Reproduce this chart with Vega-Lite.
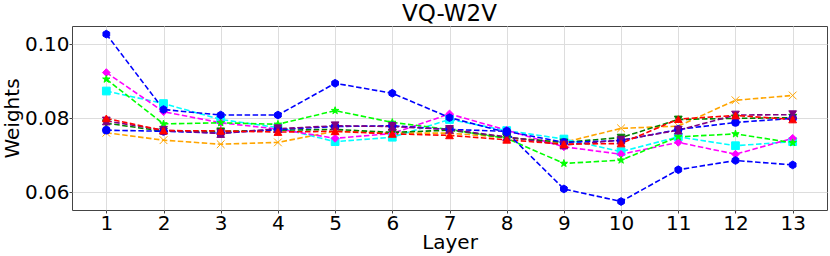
{
  "$schema": "https://vega.github.io/schema/vega-lite/v6.json",
  "width": 755,
  "height": 184,
  "autosize": {"type": "none"},
  "padding": {"left": 72, "top": 26, "right": 3, "bottom": 46},
  "background": "white",
  "title": {"text": "VQ-W2V", "fontSize": 23, "font": "DejaVu Sans", "fontWeight": "normal", "color": "black", "offset": 0},
  "config": {
    "view": {"stroke": "#444444", "strokeWidth": 1},
    "axis": {
      "labelFont": "DejaVu Sans", "labelFontSize": 20, "labelColor": "black",
      "titleFont": "DejaVu Sans", "titleFontSize": 20, "titleFontWeight": "normal", "titleColor": "black",
      "gridColor": "#dddddd", "gridWidth": 1, "domain": false,
      "tickColor": "#444444", "tickSize": 3, "labelPadding": 0
    }
  },
  "data": {"values": [
    {"layer":1,"series":"A","weight":0.0761},{"layer":2,"series":"A","weight":0.0741},{"layer":3,"series":"A","weight":0.0730},{"layer":4,"series":"A","weight":0.0735},{"layer":5,"series":"A","weight":0.0765},{"layer":6,"series":"A","weight":0.0760},{"layer":7,"series":"A","weight":0.0760},{"layer":8,"series":"A","weight":0.0748},{"layer":9,"series":"A","weight":0.0735},{"layer":10,"series":"A","weight":0.0773},{"layer":11,"series":"A","weight":0.0779},{"layer":12,"series":"A","weight":0.0849},{"layer":13,"series":"A","weight":0.0862},
    {"layer":1,"series":"B","weight":0.0874},{"layer":2,"series":"B","weight":0.0840},{"layer":3,"series":"B","weight":0.0797},{"layer":4,"series":"B","weight":0.0775},{"layer":5,"series":"B","weight":0.0737},{"layer":6,"series":"B","weight":0.0749},{"layer":7,"series":"B","weight":0.0797},{"layer":8,"series":"B","weight":0.0767},{"layer":9,"series":"B","weight":0.0744},{"layer":10,"series":"B","weight":0.0710},{"layer":11,"series":"B","weight":0.0750},{"layer":12,"series":"B","weight":0.0726},{"layer":13,"series":"B","weight":0.0737},
    {"layer":1,"series":"C","weight":0.0924},{"layer":2,"series":"C","weight":0.0818},{"layer":3,"series":"C","weight":0.0788},{"layer":4,"series":"C","weight":0.0771},{"layer":5,"series":"C","weight":0.0746},{"layer":6,"series":"C","weight":0.0759},{"layer":7,"series":"C","weight":0.0812},{"layer":8,"series":"C","weight":0.0768},{"layer":9,"series":"C","weight":0.0723},{"layer":10,"series":"C","weight":0.0703},{"layer":11,"series":"C","weight":0.0735},{"layer":12,"series":"C","weight":0.0703},{"layer":13,"series":"C","weight":0.0746},
    {"layer":1,"series":"D","weight":0.0906},{"layer":2,"series":"D","weight":0.0785},{"layer":3,"series":"D","weight":0.0788},{"layer":4,"series":"D","weight":0.0784},{"layer":5,"series":"D","weight":0.0821},{"layer":6,"series":"D","weight":0.0789},{"layer":7,"series":"D","weight":0.0770},{"layer":8,"series":"D","weight":0.0746},{"layer":9,"series":"D","weight":0.0678},{"layer":10,"series":"D","weight":0.0687},{"layer":11,"series":"D","weight":0.0750},{"layer":12,"series":"D","weight":0.0758},{"layer":13,"series":"D","weight":0.0734},
    {"layer":1,"series":"E","weight":0.0787},{"layer":2,"series":"E","weight":0.0765},{"layer":3,"series":"E","weight":0.0765},{"layer":4,"series":"E","weight":0.0768},{"layer":5,"series":"E","weight":0.0770},{"layer":6,"series":"E","weight":0.0762},{"layer":7,"series":"E","weight":0.0768},{"layer":8,"series":"E","weight":0.0748},{"layer":9,"series":"E","weight":0.0735},{"layer":10,"series":"E","weight":0.0748},{"layer":11,"series":"E","weight":0.0797},{"layer":12,"series":"E","weight":0.0800},{"layer":13,"series":"E","weight":0.0802},
    {"layer":1,"series":"F","weight":0.0768},{"layer":2,"series":"F","weight":0.0765},{"layer":3,"series":"F","weight":0.0760},{"layer":4,"series":"F","weight":0.0770},{"layer":5,"series":"F","weight":0.0778},{"layer":6,"series":"F","weight":0.0780},{"layer":7,"series":"F","weight":0.0770},{"layer":8,"series":"F","weight":0.0765},{"layer":9,"series":"F","weight":0.0735},{"layer":10,"series":"F","weight":0.0740},{"layer":11,"series":"F","weight":0.0770},{"layer":12,"series":"F","weight":0.0789},{"layer":13,"series":"F","weight":0.0800},
    {"layer":1,"series":"G","weight":0.0793},{"layer":2,"series":"G","weight":0.0768},{"layer":3,"series":"G","weight":0.0759},{"layer":4,"series":"G","weight":0.0772},{"layer":5,"series":"G","weight":0.0780},{"layer":6,"series":"G","weight":0.0778},{"layer":7,"series":"G","weight":0.0770},{"layer":8,"series":"G","weight":0.0750},{"layer":9,"series":"G","weight":0.0728},{"layer":10,"series":"G","weight":0.0741},{"layer":11,"series":"G","weight":0.0768},{"layer":12,"series":"G","weight":0.0809},{"layer":13,"series":"G","weight":0.0810},
    {"layer":1,"series":"H","weight":0.0800},{"layer":2,"series":"H","weight":0.0767},{"layer":3,"series":"H","weight":0.0766},{"layer":4,"series":"H","weight":0.0763},{"layer":5,"series":"H","weight":0.0765},{"layer":6,"series":"H","weight":0.0758},{"layer":7,"series":"H","weight":0.0754},{"layer":8,"series":"H","weight":0.0742},{"layer":9,"series":"H","weight":0.0730},{"layer":10,"series":"H","weight":0.0732},{"layer":11,"series":"H","weight":0.0798},{"layer":12,"series":"H","weight":0.0808},{"layer":13,"series":"H","weight":0.0797},
    {"layer":1,"series":"I","weight":0.1028},{"layer":2,"series":"I","weight":0.0824},{"layer":3,"series":"I","weight":0.0809},{"layer":4,"series":"I","weight":0.0809},{"layer":5,"series":"I","weight":0.0895},{"layer":6,"series":"I","weight":0.0868},{"layer":7,"series":"I","weight":0.0802},{"layer":8,"series":"I","weight":0.0762},{"layer":9,"series":"I","weight":0.0609},{"layer":10,"series":"I","weight":0.0575},{"layer":11,"series":"I","weight":0.0661},{"layer":12,"series":"I","weight":0.0686},{"layer":13,"series":"I","weight":0.0674}
  ]},
  "encoding": {
    "x": {"field": "layer", "type": "quantitative",
      "scale": {"domain": [0.4, 13.6], "nice": false, "zero": false},
      "axis": {"values": [1,2,3,4,5,6,7,8,9,10,11,12,13], "format": "d", "title": "Layer", "titlePadding": -1}},
    "y": {"field": "weight", "type": "quantitative",
      "scale": {"domain": [0.0552, 0.105], "nice": false, "zero": false},
      "axis": {"values": [0.06, 0.08, 0.10], "format": ".2f", "title": "Weights", "titlePadding": 2}},
    "color": {"field": "series", "type": "nominal",
      "scale": {"domain": ["A","B","C","D","E","F","G","H","I"],
        "range": ["#ffa500","#00ffff","#ff00ff","#00ff00","#008000","#0000ff","#800080","#ff0000","#0000ff"]},
      "legend": null}
  },
  "layer": [
    {"mark": {"type": "line", "strokeDash": [5.5, 2.5], "strokeWidth": 1.6}},
    {"mark": {"type": "point", "filled": true, "size": 60, "opacity": 1, "strokeWidth": 1},
     "encoding": {
       "stroke": {"field": "series", "type": "nominal",
         "scale": {"domain": ["A","B","C","D","E","F","G","H","I"],
           "range": ["#ffa500","#00ffff","#ff00ff","#00ff00","#008000","#0000ff","#800080","#ff0000","#0000ff"]},
         "legend": null},
       "shape": {"field": "series", "type": "nominal",
         "scale": {"domain": ["A","B","C","D","E","F","G","H","I"],
           "range": ["M-1,-1L1,1M1,-1L-1,1", "square", "diamond",
             "M0,-1L0.2245,-0.309L0.951,-0.309L0.363,0.118L0.588,0.809L0,0.382L-0.588,0.809L-0.363,0.118L-0.951,-0.309L-0.2245,-0.309Z",
             "triangle-down", "circle", "M-1,-1L1,-1L0.35,0L1,1L-1,1L-0.35,0Z", "triangle-up",
             "M0,-1L0.866,-0.5L0.866,0.5L0,1L-0.866,0.5L-0.866,-0.5Z"]},
         "legend": null}
     }}
  ]
}
